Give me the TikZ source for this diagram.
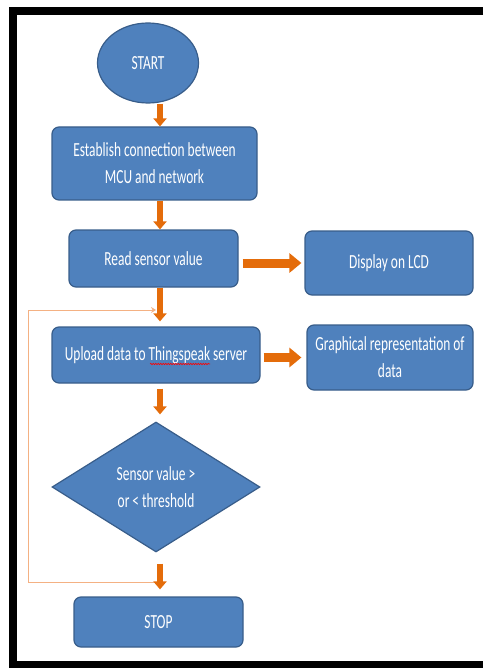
\documentclass[tikz,border=0pt]{standalone}
\usepackage{fontspec}
\newfontfamily\boxfont[FakeStretch=0.67]{Carlito}
\usetikzlibrary{arrows.meta,shapes.geometric,decorations.pathmorphing}
\definecolor{boxblue}{HTML}{4F81BD}
\definecolor{boxedge}{HTML}{385D8A}
\definecolor{flowarrow}{HTML}{E46C0A}
\definecolor{loopcol}{HTML}{F4B183}

\begin{document}
\begin{tikzpicture}[x=1pt, y=-1pt,
        procbox/.style={rectangle, rounded corners=7pt, fill=boxblue, draw=boxedge, line width=1.2pt,
            text=white, align=center, inner sep=0pt, font=\boxfont\fontsize{20}{27}\selectfont},
        termnode/.style={procbox, ellipse, sharp corners},
        decision/.style={procbox, diamond, sharp corners, shape aspect=1.6},
        flow/.style={draw=flowarrow, line width=6pt, -{Triangle[width=13pt, length=8pt]}},
        sideflow/.style={draw=flowarrow, line width=9pt, -{Triangle[width=19pt, length=12pt]}},
        loopline/.style={draw=loopcol, line width=1pt, -{Stealth[width=6pt, length=5pt]}},
        spellwave/.style={draw=red, line width=0.6pt, decorate, decoration={snake, amplitude=0.7pt, segment length=2.5pt}}]
            \useasboundingbox (0,0) rectangle (483,668);
            \draw[line width=8pt, line join=miter] (483,11.5) -- (12.5,11.5) -- (12.5,665) -- (483,665);

            \node[termnode, minimum width=101pt, minimum height=80pt] (start) at (148,63) {START};
            \node[procbox, minimum width=205pt, minimum height=73pt] (connect) at (154.5,163.5) {Establish connection between\\MCU and network};
            \node[procbox, minimum width=169pt, minimum height=57pt] (read) at (153.5,258.5) {Read sensor value};
            \node[procbox, minimum width=168pt, minimum height=64pt] (lcd) at (389,263) {Display on LCD};
            \node[procbox, minimum width=208pt, minimum height=56pt] (upload) at (156,355) {Upload data to Thingspeak server};
            \node[procbox, minimum width=166pt, minimum height=65pt] (graph) at (390,357.5) {Graphical representation of\\data};
            \node[decision, minimum width=208pt, minimum height=130pt] (check) at (156,487) {Sensor value >\\or < threshold};
            \node[procbox, minimum width=169pt, minimum height=50pt] (stop) at (158.5,622) {STOP};

            \draw[spellwave] ([shift={(-6,9)}]upload.center) -- ([shift={(54,9)}]upload.center);

            \coordinate (axis) at (160,0);
            \coordinate (loopout) at (160,582);
            \coordinate (loopin) at (156,310);
            \draw[loopline] (loopout) -- (28,582) |- (loopin);

            \draw[flow] (start.south -| axis) -- (connect.north -| axis);
            \draw[flow] (connect.south -| axis) -- (read.north -| axis);
            \draw[flow, shorten >=5pt] (read.south -| axis) -- (upload.north -| axis);
            \draw[flow, shorten <=5pt, shorten >=7pt] (upload.south -| axis) -- (check.north -| axis);
            \draw[flow, shorten <=11pt, shorten >=7pt] (check.south -| axis) -- (stop.north -| axis);
            \draw[sideflow, shorten <=4pt, shorten >=3pt] (read.east |- lcd) -- (lcd.west);
            \draw[sideflow, shorten <=3pt, shorten >=5pt] (upload.east |- graph) -- (graph.west);
        \end{tikzpicture}
\end{document}
